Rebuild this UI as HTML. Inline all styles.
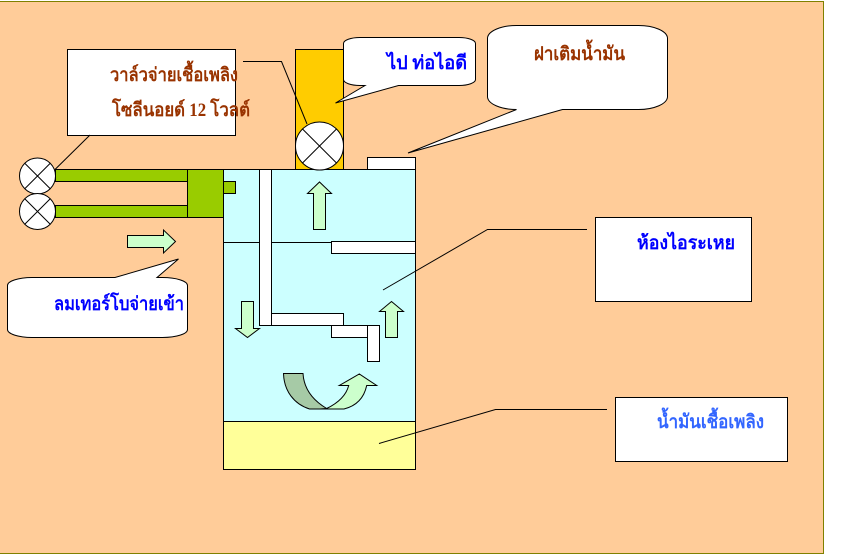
<!DOCTYPE html>
<html><head><meta charset="utf-8"><style>
html,body{margin:0;padding:0;background:#fff;width:855px;height:555px;overflow:hidden}
svg{display:block}
text{font-family:"Liberation Serif","Noto Sans CJK SC",serif;font-size:19px;font-weight:bold}
</style></head><body>
<svg width="855" height="555" viewBox="0 0 855 555" xmlns="http://www.w3.org/2000/svg">
<rect x="-2" y="1.5" width="825.5" height="552" fill="#FFCC99" stroke="#808000" shape-rendering="crispEdges"/>
<g stroke="#000" stroke-width="1" fill="none" shape-rendering="crispEdges">
<rect x="295.5" y="49.5" width="48" height="120" fill="#FFCC00"/>
<rect x="367.5" y="157.5" width="48" height="12" fill="#fff"/>
<rect x="223.5" y="169.5" width="192" height="252" fill="#CCFFFF"/>
<rect x="223.5" y="421.5" width="192" height="48" fill="#FFFF99"/>
<path d="M223.5 242.5H331.5"/>
<rect x="331.5" y="241.5" width="84" height="12" fill="#fff"/>
<rect x="259.5" y="169.5" width="12" height="156" fill="#fff"/>
<rect x="271.5" y="313.5" width="72" height="12" fill="#fff"/>
<rect x="331.5" y="325.5" width="36" height="12" fill="#fff"/>
<rect x="367.5" y="325.5" width="12" height="36" fill="#fff"/>
<rect x="55.5" y="169.5" width="132" height="12" fill="#99CC00"/>
<rect x="55.5" y="205.5" width="132" height="12" fill="#99CC00"/>
<rect x="187.5" y="169.5" width="36" height="48" fill="#99CC00"/>
<rect x="223.5" y="181.5" width="12" height="12" fill="#99CC00"/>
<rect x="67.5" y="49.5" width="168" height="86" fill="#fff"/>
<rect x="595.5" y="217.5" width="156" height="84" fill="#fff"/>
<rect x="615.5" y="397.5" width="172" height="64" fill="#fff"/>
</g>
<g stroke="#000" stroke-width="1" fill="none">
<path d="M243 61.500H281.500L307 124"/>
<path d="M90 135L55 169.500"/>
<path d="M587 229.500H487.500L383 290"/>
<path d="M607 409.500H495.500L379 443.500"/>
<g fill="#fff">
<circle cx="37.500" cy="176" r="18"/><path d="M25 163.500L50 188.500M50 163.500L25 188.500"/>
<circle cx="37.500" cy="211.500" r="18"/><path d="M25 199L50 224M50 199L25 224"/>
<circle cx="319.500" cy="146" r="24"/><path d="M302.500 129L336.500 163M336.500 129L302.500 163"/>
</g>
<path fill="#fff" d="M365 85.500H360A16.500 6 0 0 1 343.500 79.500V43.500A16.500 6 0 0 1 360 37.500H459A16.500 6 0 0 1 475.500 43.500V79.500A16.500 6 0 0 1 459 85.500H398.500L335.500 103Z"/>
<path fill="#fff" d="M516.500 109.500A29 13 0 0 1 487.500 97V38A29 13 0 0 1 516.500 25.500H638.500A29 13 0 0 1 667.500 38V97A29 13 0 0 1 638.500 109.500H562.500L408 153Z"/>
<path fill="#fff" d="M115 277.500H32A25 8 0 0 0 7.500 285.500V329.500A25 8 0 0 0 32 337.500H162.500A25 8 0 0 0 187.500 329.500V285.500A25 8 0 0 0 162.500 277.500H157L178.500 259Z"/>
<g fill="#CCFFCC">
<path d="M313.500 229.500V193.500H307.500L319.500 182L331.500 193.500H325.500V229.500Z"/>
<path d="M241.500 301.500V328.500H235.500L247.500 337.500L259.500 328.500H253.500V301.500Z"/>
<path d="M385.500 337.500V311.500H379.500L391.500 301.500L403.500 311.500H397.500V337.500Z"/>
<path d="M127.500 235.500H163.500V230L175.500 241.500L163.500 253V247.500H127.500Z"/>
</g>
<path fill="#A6CAA6" d="M283.500 373.500H303C304 390 314 401 326.700 408.500L330 409H309.500C294 404 284 391 283.500 373.500Z"/>
<path fill="#CCFFCC" d="M326.700 408.500C338 403 346 396 348.700 385.500H339.300L359.300 374L376.700 385.500H366.700C364 398 356 406 344 409H320Z"/>
<path d="M309.500 409H344"/>
</g>
<text x="110" y="81" fill="#993300" textLength="128" lengthAdjust="spacingAndGlyphs">วาล์วจ่ายเชื้อเพลิง</text>
<text x="112" y="116" fill="#993300" textLength="138" lengthAdjust="spacingAndGlyphs">โซลีนอยด์ 12 โวลต์</text>
<text x="387" y="69" fill="#0000FF" textLength="80" lengthAdjust="spacingAndGlyphs">ไป ท่อไอดี</text>
<text x="534" y="60" fill="#993300" textLength="91" lengthAdjust="spacingAndGlyphs">ฝาเติมน้ำมัน</text>
<text x="54" y="310" fill="#0000FF" textLength="130" lengthAdjust="spacingAndGlyphs">ลมเทอร์โบจ่ายเข้า</text>
<text x="637" y="249" fill="#0000FF" textLength="98" lengthAdjust="spacingAndGlyphs">ห้องไอระเหย</text>
<text x="657" y="428" fill="#3366FF" textLength="107" lengthAdjust="spacingAndGlyphs">น้ำมันเชื้อเพลิง</text>
</svg>
</body></html>
